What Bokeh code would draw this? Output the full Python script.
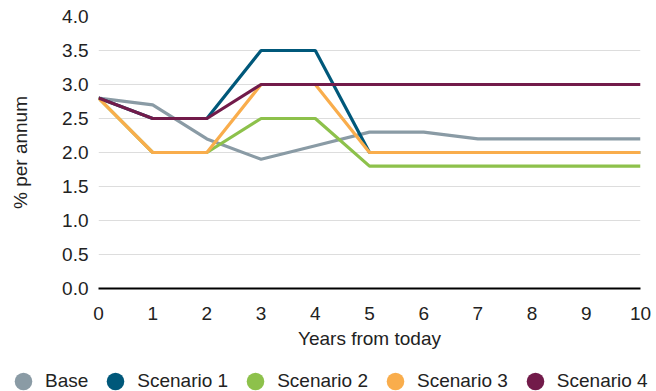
from bokeh.plotting import figure
from bokeh.layouts import column
from bokeh.models import (ColumnDataSource, Legend, LegendItem, Range1d,
                          FixedTicker, CustomJSTickFormatter)
from bokeh.embed import file_html
from bokeh.resources import INLINE

# Projected rates, % per annum, by years from today
years = [0, 1, 2, 3, 4, 5, 6, 7, 8, 9, 10]
base = [2.8, 2.7, 2.2, 1.9, 2.1, 2.3, 2.3, 2.2, 2.2, 2.2, 2.2]
scenario_1 = [2.8, 2.5, 2.5, 3.5, 3.5, 2.0, 2.0, 2.0, 2.0, 2.0, 2.0]
scenario_2 = [2.8, 2.0, 2.0, 2.5, 2.5, 1.8, 1.8, 1.8, 1.8, 1.8, 1.8]
scenario_3 = [2.8, 2.0, 2.0, 3.0, 3.0, 2.0, 2.0, 2.0, 2.0, 2.0, 2.0]
scenario_4 = [2.8, 2.5, 2.5, 3.0, 3.0, 3.0, 3.0, 3.0, 3.0, 3.0, 3.0]

series_names = ["Base", "Scenario 1", "Scenario 2", "Scenario 3", "Scenario 4"]
series_values = [base, scenario_1, scenario_2, scenario_3, scenario_4]
series_colors = ["#8A9BA5", "#00587A", "#8DC14B", "#F9AD4C", "#721B4A"]

y_ticks = [0.0, 0.5, 1.0, 1.5, 2.0, 2.5, 3.0, 3.5, 4.0]
x_ticks = years

FONT = "Liberation Sans"
FS = "19px"
TXT = "#222222"

p = figure(width=656, height=370, output_backend="svg", toolbar_location=None,
           x_range=Range1d(0, 10), y_range=Range1d(0, 4),
           min_border_left=98, min_border_right=16, min_border_top=16,
           min_border_bottom=82)
p.outline_line_color = None
p.background_fill_color = "white"
p.border_fill_color = "white"

for name, vals, col in zip(series_names, series_values, series_colors):
    src = ColumnDataSource(dict(x=years, y=vals))
    p.line("x", "y", source=src, line_color=col, line_width=3.2)

p.xgrid.visible = False
p.ygrid.ticker = FixedTicker(ticks=y_ticks)
p.ygrid.grid_line_color = "#DDDDDD"
p.ygrid.grid_line_width = 1.2

for ax in (p.xaxis, p.yaxis):
    ax.axis_line_color = None
    ax.major_tick_line_color = None
    ax.minor_tick_line_color = None
    ax.major_tick_out = 0
    ax.major_tick_in = 0
    ax.major_label_text_font = FONT
    ax.major_label_text_font_size = FS
    ax.major_label_text_color = TXT
    ax.axis_label_text_font = FONT
    ax.axis_label_text_font_size = FS
    ax.axis_label_text_font_style = "normal"
    ax.axis_label_text_color = TXT

# the x axis line doubles as the black zero baseline
p.xaxis.axis_line_color = "black"
p.xaxis.axis_line_width = 2

p.xaxis.ticker = FixedTicker(ticks=x_ticks)
p.yaxis.ticker = FixedTicker(ticks=y_ticks)
p.yaxis.formatter = CustomJSTickFormatter(code="return tick.toFixed(1)")
p.xaxis.axis_label = "Years from today"
p.yaxis.axis_label = "% per annum"
p.xaxis.major_label_standoff = 18
p.xaxis.axis_label_standoff = 5
p.yaxis.major_label_standoff = 10
p.yaxis.axis_label_standoff = 28

# legend strip underneath the chart
leg_fig = figure(width=656, height=21, output_backend="svg", toolbar_location=None,
                 x_range=Range1d(0, 1), y_range=Range1d(0, 1),
                 x_axis_type=None, y_axis_type=None,
                 min_border=0, min_border_left=0, min_border_right=0,
                 min_border_top=0, min_border_bottom=0)
leg_fig.outline_line_color = None
leg_fig.xgrid.visible = False
leg_fig.ygrid.visible = False

# circle swatches (the renderers themselves hold no visible point)
nan = float("nan")
items = []
for name, col in zip(series_names, series_colors):
    r = leg_fig.scatter(x=[nan], y=[nan], marker="circle", size=18,
                        fill_color=col, line_color=None)
    items.append(LegendItem(label=name, renderers=[r]))

legend = Legend(items=items, orientation="horizontal", location=(1, -11.7),
                glyph_width=44, glyph_height=44, label_height=44,
                label_standoff=0, spacing=5, padding=0, margin=0,
                border_line_color=None, background_fill_alpha=0,
                label_text_font=FONT, label_text_font_size=FS,
                label_text_color=TXT)
leg_fig.add_layout(legend, "center")

layout = column(p, column(leg_fig, spacing=0), spacing=0)
open("out.html", "w").write(file_html(layout, INLINE))
